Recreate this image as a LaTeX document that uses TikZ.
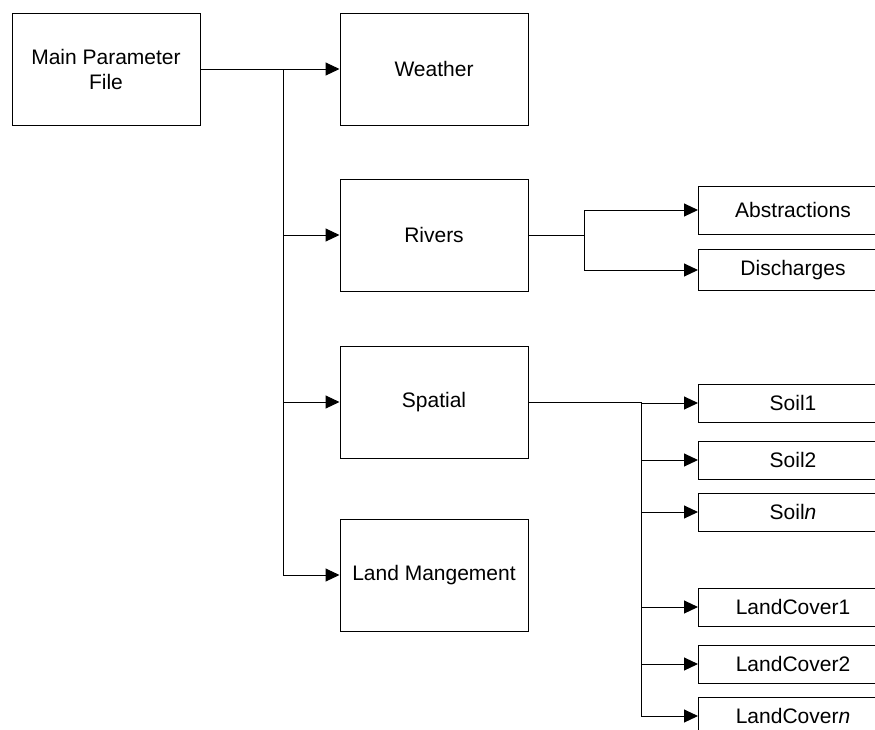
\documentclass[tikz,border=0pt]{standalone}
\usepackage{fontspec}
\setmainfont{Liberation Sans}
\usetikzlibrary{arrows.meta,positioning}

\begin{document}
\begin{tikzpicture}[x=1pt,y=-1pt,
  every node/.style={font=\fontsize{21}{25}\selectfont},
  block/.style={rectangle,draw=black,line width=1pt,align=center,minimum width=188pt,minimum height=112pt,inner sep=0pt},
  leaf/.style={rectangle,draw=black,line width=1pt,anchor=west,minimum width=189pt,minimum height=38pt,inner sep=0pt},
  arrow/.style={-{Triangle[length=14pt,width=13pt]},draw=black,line width=1pt},
  link/.style={draw=black,line width=1pt}
]
\useasboundingbox (0,0) rectangle (875,729);
\clip (0,0) rectangle (875,729);
% left column
\node[block] (main) at (106,69) {Main Parameter\\File};
\node[block,right=139pt of main] (weather) {Weather};
\node[block,below=53pt of weather] (rivers) {Rivers};
\node[block,below=54pt of rivers] (spatial) {Spatial};
\node[block,below=60pt of spatial] (landman) {Land Mangement};
% right column
\node[leaf,minimum height=48pt] (abstr) at (698,210) {Abstractions};
\node[leaf,minimum height=41pt] (disch) at (698,270) {Discharges};
\node[leaf] (soil1) at (698,403) {Soil1};
\node[leaf] (soil2) at (698,460) {Soil2};
\node[leaf] (soiln) at (698,512) {Soil\textit{n}};
\node[leaf] (cover1) at (698,607) {LandCover1};
\node[leaf] (cover2) at (698,664) {LandCover2};
\node[leaf] (covern) at (698,716) {LandCover\textit{n}};
% branch points
\coordinate (trunk) at (283,0);
\coordinate (rfork) at (584,0);
\coordinate (sfork) at (641,0);
\draw[arrow] (main.east) -- (weather.west);
\foreach \n in {rivers,spatial,landman}
  \draw[arrow] (trunk |- main.east) |- (\n.west);
\draw[link] (rivers.east) -- (rfork |- rivers.east);
\foreach \n in {abstr,disch}
  \draw[arrow] (rfork |- rivers.east) |- (\n.west);
\draw[link] (spatial.east) -- (sfork |- spatial.east);
\foreach \n in {soil1,soil2,soiln,cover1,cover2,covern}
  \draw[arrow] (sfork |- spatial.east) |- (\n.west);
\end{tikzpicture}
\end{document}
